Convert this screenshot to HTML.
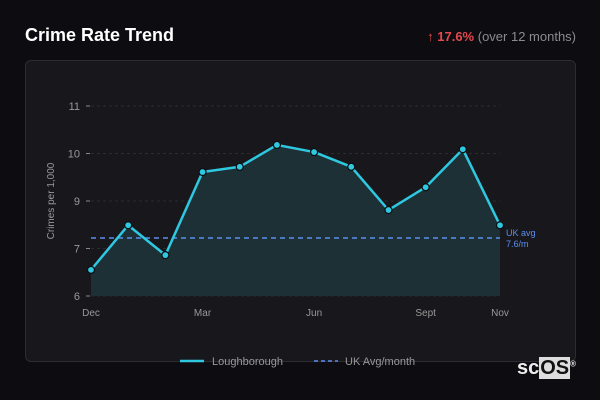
<!DOCTYPE html>
<html><head><meta charset="utf-8"><style>
body{margin:0;width:600px;height:400px;background:#0d0d11;font-family:"Liberation Sans",sans-serif;overflow:hidden;position:relative}
.title{position:absolute;left:25px;top:25px;color:#fff;font-weight:bold;font-size:18px}
.chg{position:absolute;right:24px;top:29px;font-size:13px;color:#8a8a92}
.chg b{color:#e5484d}
.card{position:absolute;left:25px;top:60px;width:549px;height:300px;border:1px solid #2c2c33;border-radius:6px;background:#18181c}
.logo{position:absolute;left:517px;top:357px;color:#eee;font-size:20px;font-weight:bold}
.logo span{background:#ddd;color:#111;padding:0 1px}
</style></head><body>
<div class="title">Crime Rate Trend</div>
<div class="chg"><b>↑ 17.6%</b> (over 12 months)</div>
<div class="card"></div>
<svg id="c" width="600" height="400" style="position:absolute;left:0;top:0"></svg>
<div class="logo">sc<span>OS</span><sup style="font-size:8px">®</sup></div>
<script>
const months=['Dec','Jan','Feb','Mar','Apr','May','Jun','Jul','Aug','Sept','Oct','Nov'];
const shownMonths=['Dec','Mar','Jun','Sept','Nov'];
const values=[6.55,7.49,6.86,8.61,8.72,9.18,9.03,8.72,7.81,8.29,9.09,7.49];
const ukAvg=7.22;
const tickValues=[6,7,8,9,10];
const tickLabels=['6','7','9','10','11'];
const svg=document.getElementById('c');const NS='http://www.w3.org/2000/svg';
const x=i=>91+i*(500-91)/11;
const y=v=>296-(v-6)*47.5;
function mk(t,a,txt){const e=document.createElementNS(NS,t);for(const k in a)e.setAttribute(k,a[k]);if(txt!=null)e.textContent=txt;svg.appendChild(e);return e;}
tickValues.forEach((v,i)=>{
 const g=mk('line',{x1:91,x2:500,y1:y(v),y2:y(v),stroke:'#2a2a30','stroke-dasharray':'3,3'});
 
 const tk=mk('line',{x1:86,x2:90,y1:y(v),y2:y(v),stroke:'#888'});
 
 const t=mk('text',{x:80,y:y(v)+4,'text-anchor':'end',fill:'#999','font-size':11},tickLabels[i]);
 
});
const yt=mk('text',{x:54,y:201,'text-anchor':'middle',fill:'#999','font-size':10,transform:'rotate(-90 54 201)'},'Crimes per 1,000');

months.forEach((m,i)=>{if(shownMonths.includes(m)){
 const t=mk('text',{x:x(i),y:316,'text-anchor':'middle',fill:'#999','font-size':10},m);
 }});
let d='M'+x(0)+','+y(values[0]);values.forEach((v,i)=>{if(i)d+=' L'+x(i)+','+y(v)});
const area=mk('path',{d:d+' L'+x(11)+',296 L'+x(0)+',296 Z',fill:'#1c3035'});

const avg=mk('line',{x1:91,x2:500,y1:y(ukAvg),y2:y(ukAvg),stroke:'#5b8def','stroke-width':1.5,'stroke-dasharray':'5,4'});

const al=mk('text',{x:506,y:y(ukAvg)-2,fill:'#5b8def','font-size':9},'UK avg');

const al2=mk('text',{x:506,y:y(ukAvg)+9,fill:'#5b8def','font-size':9},'7.6/m');

const ln=mk('path',{d:d,fill:'none',stroke:'#2ec8e0','stroke-width':2.5,'stroke-linejoin':'round'});

values.forEach((v,i)=>{const p=mk('circle',{cx:x(i),cy:y(v),r:3.5,fill:'#2ec8e0',stroke:'#0d0d11','stroke-width':1.2});
 });
const l1=mk('line',{x1:180,x2:204,y1:361,y2:361,stroke:'#2ec8e0','stroke-width':2.5});

const l1t=mk('text',{x:212,y:365,fill:'#999','font-size':11},'Loughborough');

const l2=mk('line',{x1:314,x2:338,y1:361,y2:361,stroke:'#5b8def','stroke-width':1.5,'stroke-dasharray':'4,3'});

const l2t=mk('text',{x:345,y:365,fill:'#999','font-size':11},'UK Avg/month');

</script>
</body></html>
